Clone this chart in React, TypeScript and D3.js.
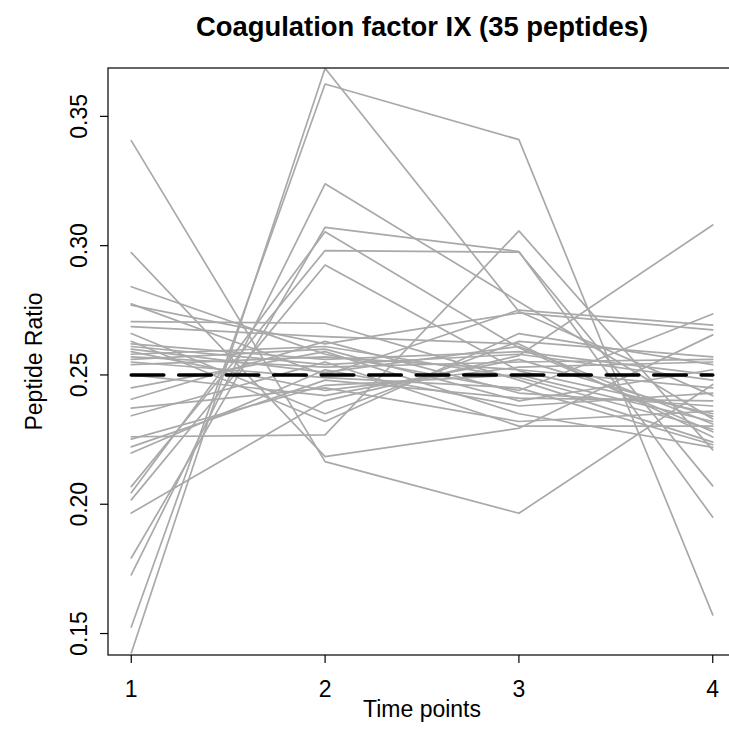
import React from "react";
import * as d3 from "d3";

const timePoints = [1, 2, 3, 4];
const yTicks = [0.15, 0.2, 0.25, 0.3, 0.35];
const referenceRatio = 0.25;
const title = "Coagulation factor IX (35 peptides)";

const peptideRatios: number[][] = [
  [0.1425, 0.3686, 0.2745, 0.242],
  [0.1525, 0.3625, 0.341, 0.1572],
  [0.2973, 0.2184, 0.2294, 0.2655],
  [0.2261, 0.2268, 0.3057, 0.221],
  [0.1792, 0.3071, 0.2977, 0.195],
  [0.2068, 0.2981, 0.2975, 0.2071],
  [0.1727, 0.3239, 0.2783, 0.233],
  [0.2044, 0.3054, 0.2605, 0.228],
  [0.2017, 0.2925, 0.2516, 0.235],
  [0.1966, 0.24, 0.2575, 0.308],
  [0.2841, 0.258, 0.244, 0.2736],
  [0.2775, 0.25, 0.2751, 0.2693],
  [0.277, 0.262, 0.274, 0.2674],
  [0.3406, 0.2165, 0.1965, 0.2463],
  [0.2706, 0.27, 0.248, 0.224],
  [0.2687, 0.2648, 0.262, 0.226],
  [0.266, 0.235, 0.263, 0.257],
  [0.263, 0.232, 0.266, 0.254],
  [0.262, 0.256, 0.259, 0.25],
  [0.261, 0.254, 0.258, 0.248],
  [0.26, 0.251, 0.261, 0.231],
  [0.259, 0.244, 0.253, 0.255],
  [0.258, 0.261, 0.249, 0.229],
  [0.257, 0.253, 0.255, 0.256],
  [0.256, 0.26, 0.24, 0.252],
  [0.255, 0.249, 0.245, 0.223],
  [0.254, 0.257, 0.252, 0.245],
  [0.25, 0.242, 0.256, 0.234],
  [0.245, 0.259, 0.235, 0.222],
  [0.2406, 0.263, 0.243, 0.238],
  [0.2372, 0.245, 0.232, 0.236],
  [0.2342, 0.255, 0.2302, 0.2302],
  [0.2252, 0.246, 0.25, 0.232],
  [0.2222, 0.248, 0.241, 0.24],
  [0.2198, 0.252, 0.238, 0.243],
];

const W = 729;
const H = 756;
const box = { left: 108, right: 736, top: 68, bottom: 655 };
const font = "'Liberation Sans', Arial, sans-serif";

export default function App() {
  const x = d3.scaleLinear().domain([0.88, 4.12]).range([box.left, box.right]);
  const y = d3.scaleLinear().domain([0.1417, 0.3687]).range([box.bottom, box.top]);
  const line = d3
    .line<number>()
    .x((_, i) => x(timePoints[i]))
    .y((d) => y(d));

  return (
    <svg
      width={W}
      height={H}
      style={{ position: "absolute", left: 0, top: 0, background: "#fff" }}
      fontFamily={font}
    >
      <defs>
        <clipPath id="plotClip">
          <rect x={box.left} y={box.top} width={box.right - box.left} height={box.bottom - box.top} />
        </clipPath>
      </defs>
      <g clipPath="url(#plotClip)">
        {peptideRatios.map((row, i) => (
          <path key={i} d={line(row) || ""} fill="none" stroke="#a9a9a9" strokeWidth={1.7} strokeLinejoin="round" strokeLinecap="round" />
        ))}
        <line
          x1={x(timePoints[0])}
          x2={x(timePoints[timePoints.length - 1])}
          y1={y(referenceRatio)}
          y2={y(referenceRatio)}
          stroke="#000"
          strokeWidth={3.6}
          strokeDasharray="32.5 15"
          strokeLinecap="round"
        />
      </g>
      <rect
        x={box.left}
        y={box.top}
        width={box.right - box.left}
        height={box.bottom - box.top}
        fill="none"
        stroke="#000"
        strokeWidth={1.2}
      />
      {timePoints.map((t) => (
        <g key={t}>
          <line x1={x(t)} x2={x(t)} y1={box.bottom} y2={box.bottom + 8} stroke="#000" strokeWidth={1.2} />
          <text x={x(t)} y={697} fontSize={23} textAnchor="middle">
            {t}
          </text>
        </g>
      ))}
      {yTicks.map((t) => (
        <g key={t}>
          <line x1={box.left - 8} x2={box.left} y1={y(t)} y2={y(t)} stroke="#000" strokeWidth={1.2} />
          <text
            transform={`translate(${87},${y(t)}) rotate(-90)`}
            fontSize={23}
            textAnchor="middle"
          >
            {d3.format(".2f")(t)}
          </text>
        </g>
      ))}
      <text x={(box.left + box.right) / 2} y={36} fontSize={27.4} fontWeight="bold" textAnchor="middle">
        {title}
      </text>
      <text x={(box.left + box.right) / 2} y={717} fontSize={23} textAnchor="middle">
        Time points
      </text>
      <text transform={`translate(42,${(box.top + box.bottom) / 2}) rotate(-90)`} fontSize={23} textAnchor="middle">
        Peptide Ratio
      </text>
    </svg>
  );
}
